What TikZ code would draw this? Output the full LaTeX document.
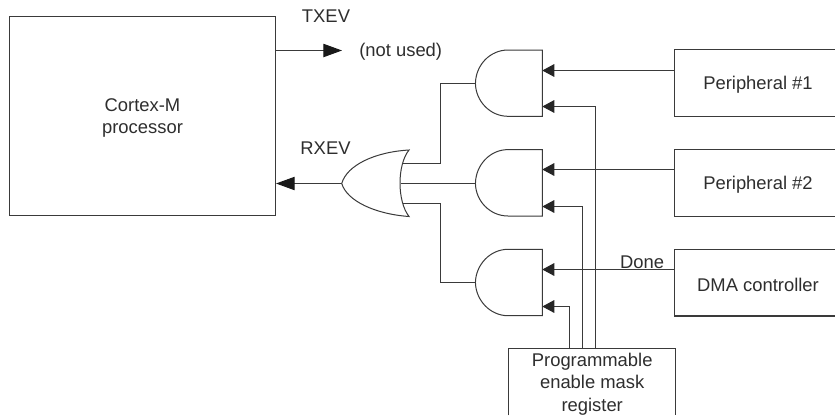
\documentclass[tikz,border=0pt]{standalone}
\usepackage{fontspec}
\setmainfont{Liberation Sans}
\usetikzlibrary{arrows.meta}
\definecolor{ink}{HTML}{3A3A3A}
\definecolor{txt}{HTML}{2E2E2E}
\tikzset{
  x=0.75pt,y=-0.75pt,
  wire/.style={draw=ink,line width=0.8pt},
  sig/.style={wire,-{Triangle[length=9pt,width=9.5pt,color=black!85]}},
  bigsig/.style={wire,-{Triangle[length=14pt,width=10pt,color=black!90]}},
  gateline/.style={draw=ink,line width=0.75pt,fill=white},
  lab/.style={text=txt,font=\fontsize{13.8}{16.7}\selectfont,inner sep=0pt,align=center},
  region/.style={lab,minimum width=120pt,minimum height=49.8pt},
  gateframe/.style={minimum width=49.95pt,minimum height=49.8pt,inner sep=0pt}
}
\newcommand{\dn}[1]{\raisebox{-1.5pt}[\height][\depth]{#1}}
\newcommand{\openbox}[1]{\draw[wire] (#1.north east) -- (#1.north west) -- (#1.south west) -- (#1.south east);}
\begin{document}
\begin{tikzpicture}
\useasboundingbox (0,0) rectangle (835,415);
\fill[white] (0,0) rectangle (835,415);
% boxes
\node[wire,draw,lab,minimum width=199.5pt,minimum height=149.6pt] (cpu) at (142.5,116.2) {\dn{Cortex-M}\\\dn{processor}};
\node[region] (p1) at (755,83.1) {\dn{\hspace*{4.5pt}Peripheral \#1}};
\node[region] (p2) at (755,182.8) {\dn{\hspace*{4.5pt}Peripheral \#2}};
\node[region] (dma) at (755,282.5) {\dn{\hspace*{4.5pt}DMA controller}};
\openbox{p1}\openbox{p2}\openbox{dma}
\node[lab,minimum width=124.7pt,minimum height=49.8pt] (mask) at (592.2,382) {\dn{Programmable}\\\dn{enable mask}\\\dn{register}};
\draw[wire] (mask.south west) -- (mask.north west) -- (mask.north east) -- (mask.south east);
% gates (invisible frames)
\node[gateframe] (ga) at (509,83.5) {};
\node[gateframe] (gb) at (509,183.5) {};
\node[gateframe] (gc) at (509,282.5) {};
\node[minimum width=50.25pt,minimum height=50pt,inner sep=0pt] (orgate) at (375.5,183.5) {};
% named points
\coordinate (a1) at (542.3,70.5);   \coordinate (a2) at (542.3,106.5);
\coordinate (b1) at (542.3,169.5);\coordinate (b2) at (542.3,206.5);
\coordinate (c1) at (542.3,269.5);\coordinate (c2) at (542.3,306.5);
\coordinate (mx1) at (569.5,349);\coordinate (mx2) at (582.5,349);\coordinate (mx3) at (595.5,349);
\coordinate (orA) at (403,163.5);\coordinate (orB) at (401,183.5);\coordinate (orC) at (403,203.5);
\coordinate (busx) at (440.5,183);
\coordinate (txend) at (342,50.5);\coordinate (txstart) at (275.5,50.5);
% wires under gates
\draw[wire] (orA) -| (busx |- ga.west) -- (ga.west);
\draw[wire] (orB) -- (gb.west);
\draw[wire] (orC) -| (busx |- gc.west) -- (gc.west);
\draw[bigsig] (orgate.west) -- (cpu.east |- orgate.west);
\draw[bigsig] (txstart) -- (txend);
\draw[sig] (p1.west |- a1) -- (a1);
\draw[sig] (p2.west |- b1) -- (b1);
\draw[sig] (dma.west |- c1) -- (c1);
\draw[sig] (mx1) |- (c2);
\draw[sig] (mx2) |- (b2);
\draw[sig] (mx3) |- (a2);
% gate shapes
\draw[gateline] (542.3,50) -- (542.3,116.3) -- (508,116.3) .. controls (490,116.3) and (475.7,101) .. (ga.west) .. controls (475.7,65) and (490,50) .. (508,50) -- cycle;
\draw[gateline] (542.3,149.6) -- (542.3,216) -- (508,216) .. controls (490,216) and (475.7,201) .. (gb.west) .. controls (475.7,165) and (490,149.6) .. (508,149.6) -- cycle;
\draw[gateline] (542.3,249.3) -- (542.3,315.7) -- (508,315.7) .. controls (490,315.7) and (475.7,300) .. (gc.west) .. controls (475.7,265) and (490,249.3) .. (508,249.3) -- cycle;
\draw[gateline] (orgate.west) .. controls (347,165) and (375,152) .. (409,150) .. controls (397,165) and (397,201) .. (409,216.5) .. controls (375,214) and (347,201) .. (orgate.west) -- cycle;
% labels
\node[lab] (tx) at (326,16) {TXEV};
\node[lab] (nu) at (400.7,51.5) {(not used)};
\node[lab] (rx) at (325.5,148) {RXEV};
\node[lab] (done) at (642,262) {Done};
\end{tikzpicture}
\end{document}
